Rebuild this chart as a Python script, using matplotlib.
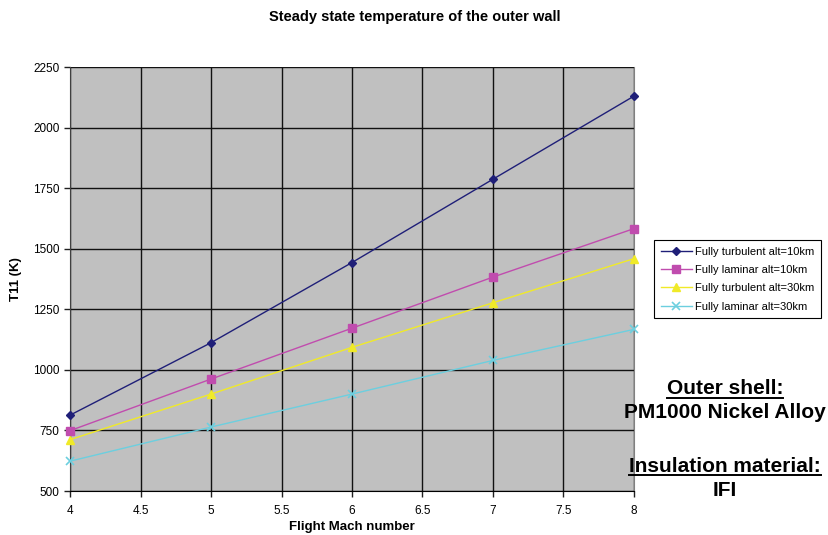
import matplotlib
matplotlib.use('Agg')
import matplotlib.pyplot as plt
import matplotlib.ticker as tck
from matplotlib.lines import Line2D

plt.rcParams['font.family'] = ['Liberation Sans', 'DejaVu Sans']

# data
mach = [4, 5, 6, 7, 8]
turb_10 = [813, 1112, 1443, 1787, 2130]   # Fully turbulent alt=10km
lam_10 = [749, 962, 1172, 1383, 1583]     # Fully laminar alt=10km
turb_30 = [712, 900, 1093, 1277, 1459]    # Fully turbulent alt=30km
lam_30 = [623, 764, 900, 1039, 1167]      # Fully laminar alt=30km

names = ['Fully turbulent alt=10km', 'Fully laminar alt=10km',
         'Fully turbulent alt=30km', 'Fully laminar alt=30km']

fig = plt.figure(figsize=(8.29, 5.35), dpi=100)
ax = fig.add_axes([70/829, 1-491/535, 564/829, 424/535])
ax.set_facecolor('#c0c0c0')

# series: colour, marker, marker size (clip_on off so end markers are whole)
ax.plot(mach, turb_10, color='#1f1f78', marker='D', markersize=4, linewidth=1, label=names[0], clip_on=False, zorder=3)
ax.plot(mach, lam_10, color='#c04cae', marker='s', markersize=6, linewidth=1, label=names[1], clip_on=False, zorder=3)
ax.plot(mach, turb_30, color='#f0ea28', marker='^', markersize=6, linewidth=1, label=names[2], clip_on=False, zorder=3)
ax.plot(mach, lam_30, color='#6ccfdf', marker='x', markersize=6, markeredgewidth=1.2, linewidth=1, label=names[3], clip_on=False, zorder=3)

ax.set_xlim(4, 8)
ax.set_ylim(500, 2250)
ax.xaxis.set_major_locator(tck.MultipleLocator(0.5))
ax.yaxis.set_major_locator(tck.MultipleLocator(250))
ax.xaxis.set_major_formatter(tck.FuncFormatter(lambda v, p: ('%g' % v)))
ax.grid(True, color='#111111', linewidth=1)
ax.set_axisbelow(True)

ax.spines['top'].set_visible(False)
ax.spines['right'].set_color('#808080')
ax.spines['left'].set_color('#404040')
ax.spines['bottom'].set_color('#000000')
ax.tick_params(axis='both', labelsize=8.5, length=4, width=1, direction='out', color='#202020')
ax.tick_params(axis='x', pad=6)

ax.set_xlabel('Flight Mach number', fontsize=9.5, fontweight='bold', labelpad=3)
ax.set_ylabel('T11 (K)', fontsize=9.5, fontweight='bold', labelpad=8)
fig.text(0.5, 1-17/535, 'Steady state temperature of the outer wall', ha='center', va='center',
         fontsize=10.5, fontweight='bold')

leg = ax.legend(loc='upper left', bbox_to_anchor=(654/829, 1-240/535), bbox_transform=fig.transFigure,
                borderaxespad=0, fontsize=8, frameon=True, fancybox=False, edgecolor='black', framealpha=1,
                borderpad=0.6, labelspacing=0.75, handlelength=2.8, handletextpad=0.3)
leg.get_frame().set_linewidth(0.8)

# material notes on the right, some underlined
notes = [('Outer shell:', 389, True), ('PM1000 Nickel Alloy', 413, False),
         ('Insulation material:', 466, True), ('IFI', 490, False)]
txts = []
for s, ypix, ul in notes:
    t = fig.text(725/829, 1-ypix/535, s, ha='center', va='center', fontsize=15, fontweight='bold')
    txts.append((t, ul))

fig.canvas.draw()
r = fig.canvas.get_renderer()
for t, ul in txts:
    if ul:
        bb = t.get_window_extent(renderer=r)
        yy = (bb.y0 + 1) / fig.bbox.height
        fig.add_artist(Line2D([bb.x0/fig.bbox.width, bb.x1/fig.bbox.width], [yy, yy],
                              color='black', linewidth=1.4, transform=fig.transFigure))

fig.savefig('out.png', dpi=100)
